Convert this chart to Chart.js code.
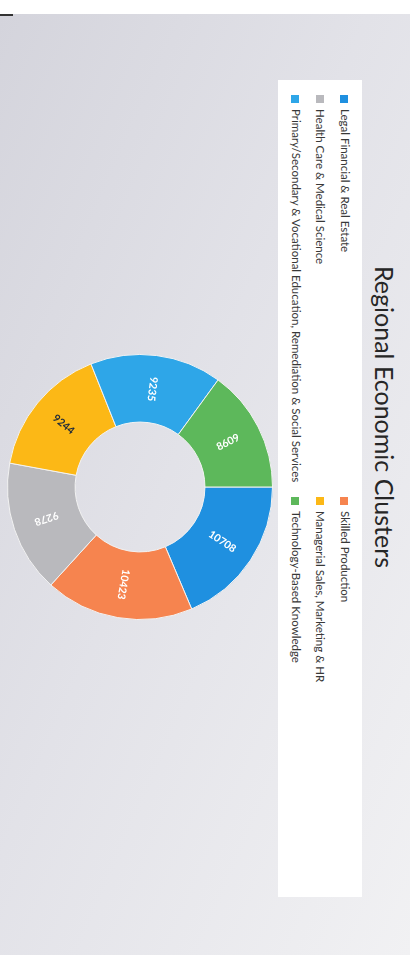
<!DOCTYPE html>
<html>
<head>
<meta charset="utf-8">
<script src="https://cdn.jsdelivr.net/npm/chart.js@4.4.1/dist/chart.umd.min.js"></script>
<style>
  html, body { margin: 0; padding: 0; background: #fff; }
  body { width: 417px; height: 968px; overflow: hidden; position: relative; }
  /* the sheet is laid out landscape, then turned a quarter clockwise */
  #sheet {
    position: absolute; left: 0; top: 0;
    width: 968px; height: 417px;
    transform-origin: 0 0;
    transform: translate(417px, 0) rotate(90deg);
    font-family: Lato, "Open Sans", sans-serif;
  }
  #paper {
    position: absolute; left: 14px; top: 7px; width: 941px; height: 410px;
    background: linear-gradient(to top right, #d4d4dc 0%, #e2e2e8 45%, #f1f1f3 100%);
  }
  #mark { position: absolute; left: 14px; top: 404px; width: 2px; height: 13px; background: #333; }
  #legendBox { position: absolute; left: 80px; top: 55px; width: 817px; height: 84px; background: #fff; }
  #title {
    position: absolute; left: 217px; width: 400px; top: 17px;
    text-align: center; font-size: 25px; color: #262626; line-height: 30px;
  }
  #legend { position: absolute; left: 95px; top: 65px; width: 700px; }
  #legend .item {
    position: absolute; font-size: 11.5px; color: #383838; white-space: nowrap;
    line-height: 14px;
  }
  #legend .swatch {
    display: inline-block; width: 8px; height: 8px; margin-right: 6px; vertical-align: -0.5px;
  }
  #donutWrap { position: absolute; left: 354px; top: 144px; width: 266px; height: 266px; }
</style>
</head>
<body>
<div id="sheet">
  <div id="paper"></div>
  <div id="mark"></div>
  <div id="legendBox"></div>
  <div id="title">Regional Economic Clusters</div>
  <div id="legend"></div>
  <div id="donutWrap"><canvas id="donut" width="266" height="266"></canvas></div>
</div>
<script>
const clusters = [
  'Legal Financial & Real Estate',
  'Skilled Production',
  'Health Care & Medical Science',
  'Managerial Sales, Marketing & HR',
  'Primary/Secondary & Vocational Education, Remediation & Social Services',
  'Technology-Based Knowledge'
];
const jobCounts = [10708, 10423, 9278, 9244, 9235, 8609];

const sliceColours = ['#1f90e0', '#f6844f', '#b9b9bd', '#fcb816', '#2ea6e8', '#5db85b'];
const valueColours = ['#ffffff', '#ffffff', '#ffffff', '#1f2a3a', '#ffffff', '#ffffff'];

// writes the value along the radius in the middle of each ring segment
const sliceValues = {
  id: 'sliceValues',
  afterDatasetsDraw(chart) {
    const ctx = chart.ctx;
    const meta = chart.getDatasetMeta(0);
    const data = chart.data.datasets[0].data;
    ctx.save();
    ctx.font = 'bold 10.5px Lato, "Open Sans", sans-serif';
    ctx.textAlign = 'center';
    ctx.textBaseline = 'middle';
    meta.data.forEach((arc, i) => {
      const p = arc.getProps(['x', 'y', 'startAngle', 'endAngle', 'innerRadius', 'outerRadius'], true);
      const mid = (p.startAngle + p.endAngle) / 2;
      const r = (p.innerRadius + p.outerRadius) / 2;
      let deg = ((mid * 180 / Math.PI) % 360 + 360) % 360;
      // flip the lower-left ones so they don't read upside down
      if (deg > 90 && deg < 225) deg -= 180;
      ctx.save();
      ctx.translate(p.x + Math.cos(mid) * r, p.y + Math.sin(mid) * r);
      ctx.rotate(deg * Math.PI / 180);
      ctx.fillStyle = valueColours[i];
      ctx.fillText(String(data[i]), 0, 0);
      ctx.restore();
    });
    ctx.restore();
  }
};

const chart = new Chart(document.getElementById('donut'), {
  type: 'doughnut',
  data: {
    labels: clusters,
    datasets: [{
      data: jobCounts,
      backgroundColor: sliceColours,
      borderColor: '#f2f2f2',
      borderWidth: 1
    }]
  },
  options: {
    responsive: false,
    animation: false,
    cutout: '49%',
    layout: { padding: 0 },
    plugins: {
      legend: { display: false },
      tooltip: { enabled: false }
    }
  },
  plugins: [sliceValues]
});

// two-column legend built from the chart's own labels
const legendEl = document.getElementById('legend');
chart.data.labels.forEach((label, i) => {
  const item = document.createElement('div');
  item.className = 'item';
  item.style.left = (i % 2 ? 402 : 0) + 'px';
  item.style.top = Math.floor(i / 2) * 24.5 + 'px';
  const sw = document.createElement('span');
  sw.className = 'swatch';
  sw.style.background = sliceColours[i];
  item.appendChild(sw);
  item.appendChild(document.createTextNode(label));
  legendEl.appendChild(item);
});
</script>
</body>
</html>
